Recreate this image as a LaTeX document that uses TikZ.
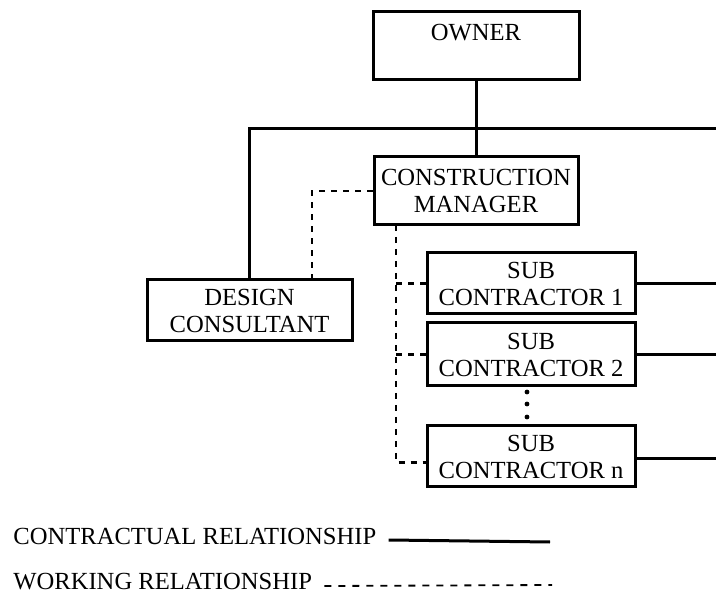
\documentclass[tikz,border=0pt]{standalone}
\usepackage{fontspec}
\setmainfont{Liberation Serif}
\usepackage{tikz}

\begin{document}
\begin{tikzpicture}[x=0.5pt,y=-0.5pt,
    box/.style={draw=black,line width=1.5pt,inner sep=0pt,align=center,
        minimum width=103pt,minimum height=30.5pt,
        font=\fontsize{12.3}{13.5}\selectfont},
    solidline/.style={black,line width=1.5pt},
    workline/.style={black,line width=1.1pt,dash pattern=on 3pt off 3pt},
    legend/.style={anchor=west,inner sep=6pt,font=\fontsize{12.3}{13.5}\selectfont}]
                    \useasboundingbox (0,0) rectangle (716,597);

                    % boxes
                    \node[box,minimum height=34pt] (owner) at (476,46) {OWNER\\~};
                    \node[box,minimum width=102pt,minimum height=34pt] (cm) at (476,191) {CONSTRUCTION\\MANAGER};
                    \node[box,minimum width=102.5pt] (dc) at (249.5,310.5) {DESIGN\\CONSULTANT};
                    \node[box,minimum width=104pt] (sc1) at (531,283.5) {SUB\\CONTRACTOR 1};
                    \node[box,minimum width=104pt,minimum height=31.5pt] (sc2) at (531,354.5) {SUB\\CONTRACTOR 2};
                    \node[box,minimum width=104pt] (scn) at (531,456.5) {SUB\\CONTRACTOR n};

                    % free ends
                    \coordinate (topright) at (716,129);
                    \coordinate (rim) at (716,0);
                    \coordinate (dctap) at (312,280);
                    \coordinate (cmtap) at (396,225);

                    % contractual relationship
                    \draw[solidline] (owner.south) -- (cm.north);
                    \draw[solidline] (dc.north) |- (topright);
                    \draw[solidline] (sc1.east) -- (sc1.east -| rim);
                    \draw[solidline] (sc2.east) -- (sc2.east -| rim);
                    \draw[solidline] ([yshift=-1pt]scn.east) -- ([yshift=-1pt]scn.east -| rim);

                    % working relationship
                    \draw[workline] (cm.west) -| (dctap);
                    \draw[workline] (cmtap) |- ([yshift=-3pt]scn.west);
                    \draw[workline] (cmtap |- sc1.west) -- (sc1.west);
                    \draw[workline] (cmtap |- sc2.west) -- (sc2.west);

                    % dots
                    \fill[black] (527,392) circle (1.2pt);
                    \fill[black] (527,404) circle (1.2pt);
                    \fill[black] (527,417) circle (1.2pt);

                    % legend
                    \node[legend] (legc) at (1,536) {CONTRACTUAL RELATIONSHIP};
                    \node[legend] (legw) at (1,582) {WORKING RELATIONSHIP};
                    \coordinate (legcend) at (550,542);
                    \coordinate (legwend) at (552,585);
                    \draw[solidline] ([yshift=-2pt]legc.east) -- (legcend);
                    \draw[workline,line width=0.9pt,dash pattern=on 3.5pt off 3.5pt] ([yshift=-2pt]legw.east) -- (legwend);
                \end{tikzpicture}
\end{document}
